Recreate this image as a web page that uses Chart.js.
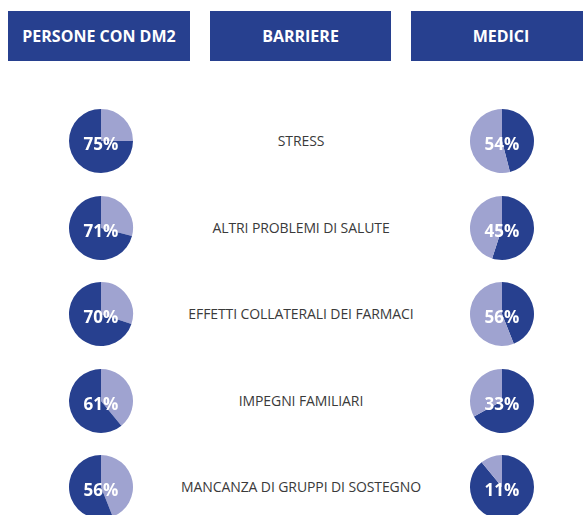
<!DOCTYPE html>
<html>
<head>
<meta charset="utf-8">
<script src="https://cdn.jsdelivr.net/npm/chart.js@4.4.0/dist/chart.umd.min.js"></script>
<style>
  html, body { margin: 0; padding: 0; background: #ffffff; }
  body { width: 583px; height: 515px; position: relative; overflow: hidden; font-family: "Open Sans", "Noto Sans", sans-serif; }
  .hdr { position: absolute; top: 11px; height: 50px; background: #27408f; color: #ffffff; font-weight: 700; font-size: 16px; display: flex; align-items: center; justify-content: center; }
  .lbl { position: absolute; left: 150px; width: 302px; text-align: center; color: #3a3a3a; font-size: 14px; font-weight: 400; letter-spacing: -0.1px; }
  .pie { position: absolute; width: 66px; height: 66px; }
</style>
</head>
<body>
<script>
const headers = ["PERSONE CON DM2", "BARRIERE", "MEDICI"];
const barriers = ["STRESS", "ALTRI PROBLEMI DI SALUTE", "EFFETTI COLLATERALI DEI FARMACI", "IMPEGNI FAMILIARI", "MANCANZA DI GRUPPI DI SOSTEGNO"];
const patients = [75, 71, 70, 61, 56];
const doctors = [54, 45, 56, 33, 11];

const DARK = "#27408f";
const LIGHT = "#9fa3d0";

const headerBoxes = [[8, 182], [210, 181], [411, 180]];
headers.forEach((h, i) => {
  const d = document.createElement("div");
  d.className = "hdr";
  d.style.left = headerBoxes[i][0] + "px";
  d.style.width = headerBoxes[i][1] + "px";
  d.textContent = h;
  document.body.appendChild(d);
});

const rowY = [141, 227.5, 314, 400.5, 487];

const centerText = {
  id: "centerText",
  afterDraw(chart, args, opts) {
    const ctx = chart.ctx;
    const meta = chart.getDatasetMeta(0);
    const arc = meta.data[0];
    ctx.save();
    ctx.fillStyle = "#ffffff";
    ctx.font = "700 17px 'Open Sans', 'Noto Sans', sans-serif";
    ctx.textAlign = "center";
    ctx.textBaseline = "alphabetic";
    ctx.fillText(opts.text, arc.x, arc.y + 8.5);
    ctx.restore();
  }
};

function makePie(cx, cy, data, colors, text) {
  const c = document.createElement("canvas");
  c.className = "pie";
  c.width = 66; c.height = 66;
  c.style.left = (cx - 33) + "px";
  c.style.top = (cy - 33) + "px";
  document.body.appendChild(c);
  new Chart(c, {
    type: "pie",
    data: { labels: ["a", "b"], datasets: [{ data: data, backgroundColor: colors, borderWidth: 0, hoverOffset: 0 }] },
    options: {
      responsive: false, animation: false, events: [],
      layout: { padding: 1 },
      plugins: { legend: { display: false }, tooltip: { enabled: false }, centerText: { text: text } }
    },
    plugins: [centerText]
  });
}

barriers.forEach((b, i) => {
  const l = document.createElement("div");
  l.className = "lbl";
  l.style.top = (rowY[i] - 10) + "px";
  l.textContent = b;
  document.body.appendChild(l);
  makePie(101, rowY[i], [100 - patients[i], patients[i]], [LIGHT, DARK], patients[i] + "%");
  makePie(501.5, rowY[i], [100 - doctors[i], doctors[i]], [DARK, LIGHT], doctors[i] + "%");
});
</script>
</body>
</html>
